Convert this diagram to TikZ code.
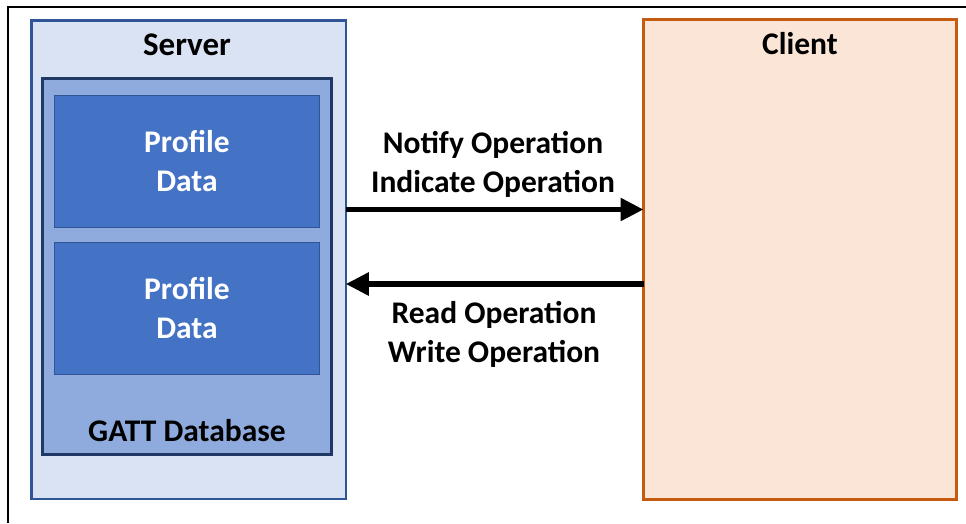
\documentclass[tikz,border=0pt]{standalone}
\usepackage{fontspec}
\setmainfont{Carlito}
\usetikzlibrary{arrows.meta}
\definecolor{srvfill}{HTML}{DAE3F3}
\definecolor{srvline}{HTML}{2F5597}
\definecolor{gattfill}{HTML}{8FAADC}
\definecolor{gattline}{HTML}{203864}
\definecolor{proffill}{HTML}{4472C4}
\definecolor{profline}{HTML}{2F5597}
\definecolor{clifill}{HTML}{FBE5D6}
\definecolor{cliline}{HTML}{C55A11}
\begin{document}
\begin{tikzpicture}[x=1pt,y=-1pt,
  box/.style={draw, inner sep=0pt, outer sep=0pt},
  lbl/.style={font=\fontsize{31.5}{39}\selectfont\bfseries, inner sep=0pt, align=center},
  conn/.style={line width=5.5pt, -{Triangle[length=23pt,width=22pt]}}]
\useasboundingbox (0,0) rectangle (966,523);
\fill[white] (0,0) rectangle (966,523);
\draw[line width=2pt] (8,523) -- (8,7) -- (966,7);
% server
\node[box, fill=srvfill, draw=srvline, line width=2.5pt, minimum width=314.5pt, minimum height=478.5pt] (server) at (188.5,259.5) {};
\node[box, fill=gattfill, draw=gattline, line width=3pt, minimum width=289pt, minimum height=376pt] (gatt) at (187,266.5) {};
\node[box, lbl, fill=proffill, draw=profline, line width=1pt, minimum width=265pt, minimum height=132pt, text=white] (prof1) at (187,161.5) {Profile\\Data};
\node[box, lbl, fill=proffill, draw=profline, line width=1pt, minimum width=265pt, minimum height=132pt, text=white] (prof2) at (187,308.5) {Profile\\Data};
\node[lbl, anchor=base, font=\fontsize{33}{39}\selectfont\bfseries] (serverlbl) at (187,55) {Server};
\node[lbl, anchor=base] (gattlbl) at (187,441) {GATT Database};
% client
\node[box, fill=clifill, draw=cliline, line width=3pt, minimum width=313pt, minimum height=480pt] (client) at (800,259.5) {};
\node[lbl, anchor=base] (clientlbl) at (800,54) {Client};
% arrows
\coordinate (a1) at (0,209.5);
\coordinate (a2) at (0,284);
\draw[conn] (server.east |- a1) -- (client.west |- a1);
\draw[conn] (client.west |- a2) -- (server.east |- a2);
\node[lbl] (notify) at (493,164.8) {Notify Operation\\Indicate Operation};
\node[lbl] (readw) at (494,334.8) {Read Operation\\Write Operation};
\end{tikzpicture}
\end{document}
